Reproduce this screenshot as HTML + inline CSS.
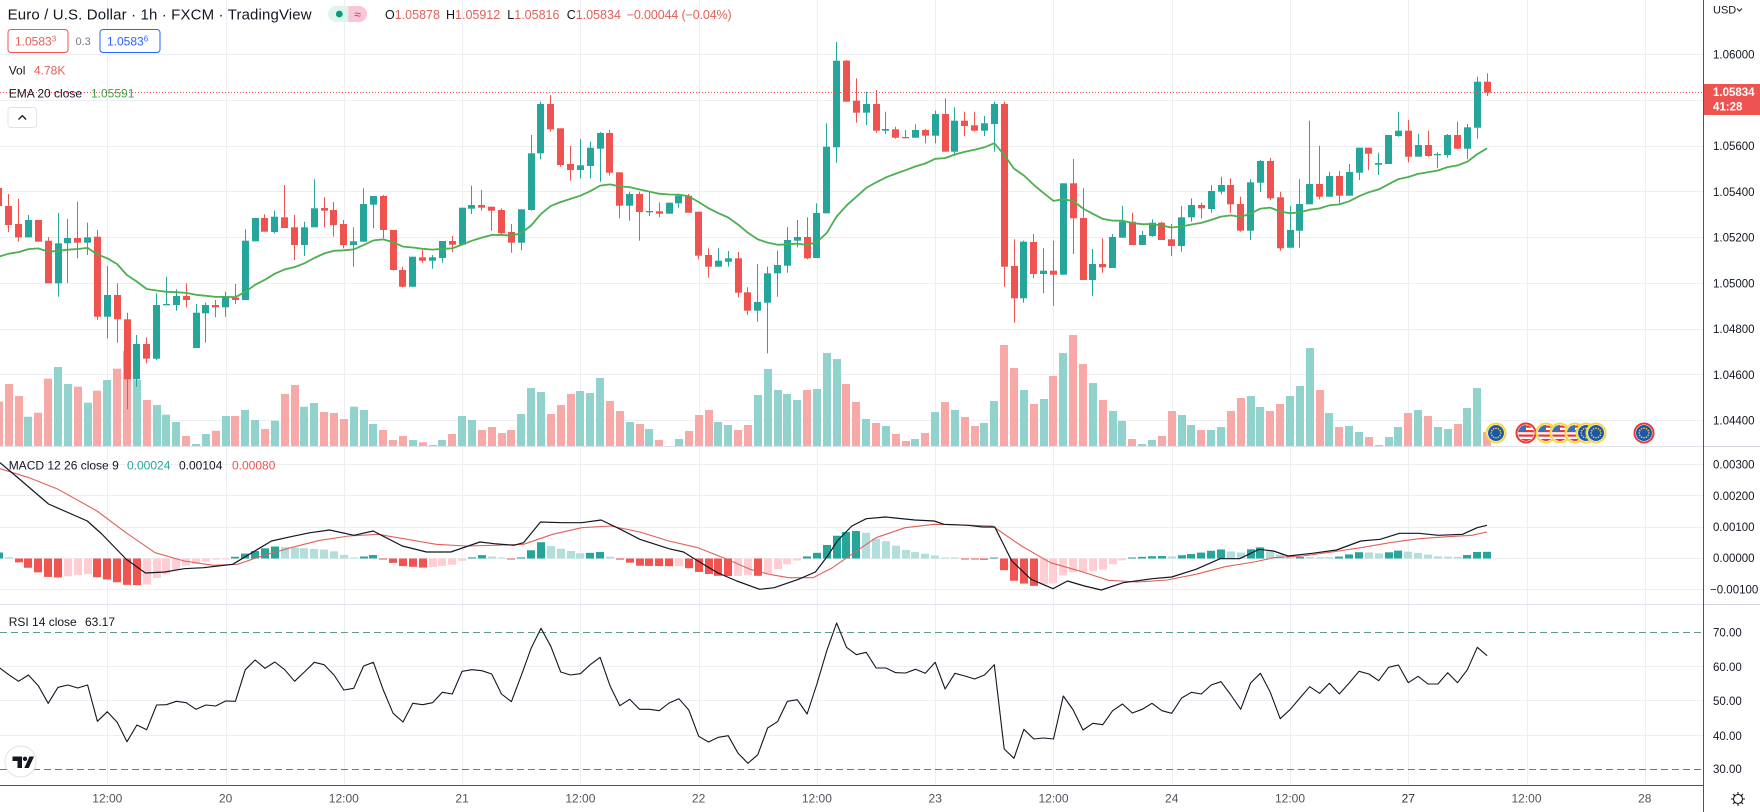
<!DOCTYPE html>
<html><head><meta charset="utf-8">
<style>
html,body{margin:0;padding:0;background:#fff;width:1760px;height:812px;overflow:hidden;}
svg{display:block;}
text{font-family:"Liberation Sans",Arial,sans-serif;}
</style></head><body>
<svg id="c" width="1760" height="812" xmlns="http://www.w3.org/2000/svg">
<defs>
<clipPath id="cpMain"><rect x="0" y="0" width="1703" height="446"/></clipPath>
<clipPath id="cpMacd"><rect x="0" y="447" width="1703" height="157"/></clipPath>
<clipPath id="cpRsi"><rect x="0" y="605" width="1703" height="180"/></clipPath>
<clipPath id="flagc"><circle cx="0" cy="0" r="8"/></clipPath>
<symbol id="us" viewBox="-10 -10 20 20" overflow="visible">
<g clip-path="url(#flagc)">
<rect x="-10" y="-10" width="20" height="20" fill="#ffffff"/>
<rect x="-10" y="-7.5" width="20" height="2.2" fill="#e53935"/>
<rect x="-10" y="-3" width="20" height="2.2" fill="#e53935"/>
<rect x="-10" y="1.5" width="20" height="2.2" fill="#e53935"/>
<rect x="-10" y="6" width="20" height="2.2" fill="#e53935"/>
<rect x="-10" y="-10" width="10" height="9" fill="#3f6fb5"/>
</g>
</symbol>
<symbol id="eu" viewBox="-10 -10 20 20" overflow="visible">
<circle cx="0" cy="0" r="8" fill="#1f57a8"/>
<g fill="#f2d54a">
<circle cx="0" cy="-4.8" r="0.8"/><circle cx="2.4" cy="-4.2" r="0.8"/><circle cx="4.2" cy="-2.4" r="0.8"/>
<circle cx="4.8" cy="0" r="0.8"/><circle cx="4.2" cy="2.4" r="0.8"/><circle cx="2.4" cy="4.2" r="0.8"/>
<circle cx="0" cy="4.8" r="0.8"/><circle cx="-2.4" cy="4.2" r="0.8"/><circle cx="-4.2" cy="2.4" r="0.8"/>
<circle cx="-4.8" cy="0" r="0.8"/><circle cx="-4.2" cy="-2.4" r="0.8"/><circle cx="-2.4" cy="-4.2" r="0.8"/>
</g>
</symbol>
</defs>
<rect x="0" y="0" width="1760" height="812" fill="#ffffff"/>
<g id="grid"></g>
<g id="vol" clip-path="url(#cpMain)"></g>
<g id="candles" clip-path="url(#cpMain)"></g>
<g id="ema" clip-path="url(#cpMain)"></g>
<g id="macd" clip-path="url(#cpMacd)"></g>
<g id="rsi" clip-path="url(#cpRsi)"></g>

<!-- current price line -->
<line x1="0" y1="92.5" x2="1703" y2="92.5" stroke="#ef5350" stroke-width="1" stroke-dasharray="1 2"/>

<!-- events -->
<g id="events">
<circle cx="1496" cy="433" r="9.5" fill="#fff" stroke="#f5d742" stroke-width="2"/><use href="#eu" x="1486" y="423" width="20" height="20"/>
<circle cx="1526" cy="433" r="9.5" fill="#fff" stroke="#e53935" stroke-width="2"/><use href="#us" x="1516" y="423" width="20" height="20"/>
<circle cx="1546" cy="433" r="9.5" fill="#fff" stroke="#f5d742" stroke-width="2"/><use href="#us" x="1536" y="423" width="20" height="20"/>
<circle cx="1560" cy="433" r="9.5" fill="#fff" stroke="#f5d742" stroke-width="2"/><use href="#us" x="1550" y="423" width="20" height="20"/>
<circle cx="1575" cy="433" r="9.5" fill="#fff" stroke="#f5d742" stroke-width="2"/><use href="#us" x="1565" y="423" width="20" height="20"/>
<circle cx="1586" cy="433" r="9.5" fill="#fff" stroke="#f5d742" stroke-width="2"/><use href="#eu" x="1576" y="423" width="20" height="20"/>
<circle cx="1596" cy="433" r="9.5" fill="#fff" stroke="#f5d742" stroke-width="2"/><use href="#eu" x="1586" y="423" width="20" height="20"/>
<circle cx="1644" cy="433" r="9.5" fill="#fff" stroke="#e53935" stroke-width="2"/><use href="#eu" x="1634" y="423" width="20" height="20"/>
</g>

<!-- pane separators & axis borders -->
<line x1="0" y1="446.5" x2="1760" y2="446.5" stroke="#e0e3eb" stroke-width="1"/>
<line x1="0" y1="604.5" x2="1760" y2="604.5" stroke="#e0e3eb" stroke-width="1"/>
<rect x="1704" y="0" width="56" height="812" fill="#ffffff"/>
<rect x="0" y="786" width="1704" height="26" fill="#ffffff"/>
<line x1="1703.5" y1="0" x2="1703.5" y2="812" stroke="#50535e" stroke-width="1"/>
<line x1="0" y1="785.5" x2="1703" y2="785.5" stroke="#50535e" stroke-width="1"/>
<line x1="1704" y1="446.5" x2="1760" y2="446.5" stroke="#d1d4dc" stroke-width="1"/>
<line x1="1704" y1="604.5" x2="1760" y2="604.5" stroke="#d1d4dc" stroke-width="1"/>

<!-- price axis -->
<g font-size="11.5" fill="#131722">
<text x="1713" y="13.5" font-size="11">USD</text>
<path d="M1737 8.5 l2.5 2.5 l2.5 -2.5" fill="none" stroke="#131722" stroke-width="1"/>
<text x="1713" y="58.6">1.06000</text>
<text x="1713" y="150.1">1.05600</text>
<text x="1713" y="195.9">1.05400</text>
<text x="1713" y="241.6">1.05200</text>
<text x="1713" y="287.4">1.05000</text>
<text x="1713" y="333.2">1.04800</text>
<text x="1713" y="379">1.04600</text>
<text x="1713" y="424.7">1.04400</text>
<text x="1713" y="468.5">0.00300</text>
<text x="1713" y="499.8">0.00200</text>
<text x="1713" y="531.2">0.00100</text>
<text x="1713" y="562.2">0.00000</text>
<text x="1710" y="593.5">−0.00100</text>
<text x="1713" y="636.5">70.00</text>
<text x="1713" y="670.9">60.00</text>
<text x="1713" y="704.9">50.00</text>
<text x="1713" y="739.9">40.00</text>
<text x="1713" y="773.2">30.00</text>
</g>
<rect x="1704" y="84" width="56" height="31" fill="#ef5350"/>
<text x="1713" y="96" font-size="11.5" font-weight="bold" fill="#ffffff">1.05834</text>
<text x="1713" y="110.5" font-size="11.5" font-weight="bold" fill="#ffffff">41:28</text>

<!-- gear -->
<g transform="translate(1738,799)" stroke="#131722" stroke-width="1.1" fill="none">
<circle cx="0" cy="0" r="4.5"/>
<path d="M0 -4.5V-7 M0 4.5V7 M-4.5 0H-7 M4.5 0H7 M3.2 -3.2L5 -5 M-3.2 3.2L-5 5 M3.2 3.2L5 5 M-3.2 -3.2L-5 -5"/>
</g>

<!-- time axis labels -->
<g font-size="12" fill="#50535e" text-anchor="middle">
<text x="107.3" y="802.3">12:00</text>
<text x="225.6" y="802.3">20</text>
<text x="343.8" y="802.3">12:00</text>
<text x="462.1" y="802.3">21</text>
<text x="580.4" y="802.3">12:00</text>
<text x="698.6" y="802.3">22</text>
<text x="816.9" y="802.3">12:00</text>
<text x="935.2" y="802.3">23</text>
<text x="1053.5" y="802.3">12:00</text>
<text x="1171.7" y="802.3">24</text>
<text x="1290" y="802.3">12:00</text>
<text x="1408.3" y="802.3" fill="#2a2e39">27</text>
<text x="1526.5" y="802.3">12:00</text>
<text x="1644.8" y="802.3">28</text>
</g>

<!-- legend -->
<text x="7.6" y="19.5" font-size="15" fill="#131722" textLength="304" lengthAdjust="spacing">Euro / U.S. Dollar · 1h · FXCM · TradingView</text>
<rect x="328" y="6" width="39" height="16" rx="8" fill="#dff3ef"/>
<path d="M348.3 6 H359 a8 8 0 0 1 0 16 H348.3 Z" fill="#f8c6d6"/>
<circle cx="339.3" cy="14" r="3.4" fill="#089981"/>
<text x="357.5" y="18.5" font-size="12" fill="#e91e63" text-anchor="middle">≈</text>
<g font-size="12.5">
<text x="385" y="18.8"><tspan fill="#131722">O</tspan><tspan fill="#e0605a">1.05878</tspan></text>
<text x="446" y="18.8"><tspan fill="#131722">H</tspan><tspan fill="#e0605a">1.05912</tspan></text>
<text x="507.3" y="18.8"><tspan fill="#131722">L</tspan><tspan fill="#e0605a">1.05816</tspan></text>
<text x="566.7" y="18.8"><tspan fill="#131722">C</tspan><tspan fill="#e0605a">1.05834</tspan></text>
<text x="626.7" y="18.8" fill="#e0605a" textLength="105" lengthAdjust="spacing">−0.00044 (−0.04%)</text>
</g>
<rect x="8" y="29.5" width="60" height="23" rx="3" fill="#ffffff" stroke="#ef5350" stroke-width="1"/>
<text x="15" y="45.5" font-size="12" fill="#e0605a">1.0583<tspan font-size="8" dy="-4">3</tspan></text>
<text x="75.5" y="45" font-size="11" fill="#787b86">0.3</text>
<rect x="100" y="29.5" width="60" height="23" rx="3" fill="#ffffff" stroke="#2962ff" stroke-width="1"/>
<text x="107" y="45.5" font-size="12" fill="#2962ff">1.0583<tspan font-size="8" dy="-4">6</tspan></text>
<text x="8.7" y="74.3" font-size="12" fill="#131722">Vol</text>
<text x="34" y="74.3" font-size="12" fill="#e0605a">4.78K</text>
<text x="8.7" y="97.3" font-size="12" fill="#131722">EMA 20 close</text>
<text x="91" y="97.3" font-size="12" fill="#43a047">1.05591</text>
<rect x="8" y="107.5" width="28.5" height="20" rx="3" fill="#ffffff" stroke="#e0e3eb" stroke-width="1"/>
<path d="M18.5 119.5 l3.8 -3.8 l3.8 3.8" fill="none" stroke="#131722" stroke-width="1.3"/>

<text x="8.7" y="469.5" font-size="12" fill="#131722">MACD 12 26 close 9</text>
<text x="127" y="469.5" font-size="12" fill="#26a69a">0.00024</text>
<text x="179" y="469.5" font-size="12" fill="#131722">0.00104</text>
<text x="232" y="469.5" font-size="12" fill="#ef5350">0.00080</text>
<text x="8.7" y="625.8" font-size="12" fill="#131722">RSI 14 close</text>
<text x="85" y="625.8" font-size="12" fill="#131722">63.17</text>

<!-- TV logo -->
<circle cx="20.5" cy="761.5" r="15.5" fill="#ffffff" stroke="#e0e3eb" stroke-width="1"/>
<path d="M12.5 756.5 h9.5 v11.5 h-4.5 v-7 h-5 z" fill="#131722"/>
<circle cx="25" cy="758.8" r="2.2" fill="#131722"/>
<path d="M29.5 756.5 h4.5 l-5.2 11.5 h-4.5 z" fill="#131722"/>
</svg>
<script>
(function(){
var NS="http://www.w3.org/2000/svg";
function el(tag,attrs,parent){var e=document.createElementNS(NS,tag);for(var k in attrs)e.setAttribute(k,attrs[k]);parent.appendChild(e);return e;}
var gGrid=document.getElementById('grid'),gV=document.getElementById('vol'),gC=document.getElementById('candles'),gE=document.getElementById('ema'),gM=document.getElementById('macd'),gR=document.getElementById('rsi');
var GRID="#eceef3";
// vertical gridlines
for(var k=0;k<14;k++){var x=Math.round(107.3+118.27*k)+0.5;el('line',{x1:x,y1:0,x2:x,y2:785,stroke:GRID,'stroke-width':1},gGrid);}
[54.5,100.5,146.5,191.5,237.5,283.5,329.5,374.5,420.5,464.5,495.5,527.5,558.5,589.5,666.5,700.5,735.5].forEach(function(y){el('line',{x1:0,y1:y,x2:1703,y2:y,stroke:GRID,'stroke-width':1},gGrid);});
el('line',{x1:0,y1:632.5,x2:1703,y2:632.5,stroke:'#5f9e86','stroke-width':1,'stroke-dasharray':'7 4'},gGrid);
el('line',{x1:0,y1:769.5,x2:1703,y2:769.5,stroke:'#c9504c','stroke-width':1,'stroke-dasharray':'7 4'},gGrid);

var UP="#26a69a",DN="#ef5350",VUP="#92d2cc",VDN="#f7a9a7";
function X(i){return -1.12+9.856*i;}
var C=[
[0,188,206,184,212],[0,206,225,194,232],[0,224,237.3,199,241.7],[1,220,237.3,215,237.3],[0,220,241.7,220,241.7],
[0,240.7,283.3,237,283.3],[1,243.3,283.3,213,296.7],[1,238,243.3,219,283],[0,238,242.7,201.7,258.3],[1,237.3,242.7,222.7,255],
[0,236.7,316.7,230,320],[1,295,316.7,266,338.3],[0,295,319.3,283.3,342.7],[0,319.3,379.3,312.7,409.3],[1,344,379.3,335,386.7],
[0,344,358.7,337.3,363.3],[1,305,358.7,293.3,360],[1,304,305.3,276.7,305.3],[1,296,305,289.3,310.7],[0,296,300,283.3,307.3],
[1,312.7,348,304,348],[1,305,313.3,302.7,342.7],[0,305,307.3,300,317.3],[1,297.3,307.3,291.7,316.7],[0,297.7,300,284,304],
[1,240.7,300,229.3,300],[1,218,241.3,218,241.3],[0,218,231.7,214.3,231.7],[1,216.7,232,210.7,233.3],[0,217.3,228,185,228],
[0,227.3,245,215,260],[1,227.3,245,221.7,256],[1,208.3,227.3,179.3,227.3],[0,208,210.7,197.3,227.3],[0,210,225,202,236.7],
[0,224,245,220,248.3],[1,241.3,245,227.3,266.7],[1,204,241.7,188.3,241.7],[1,196,204.7,196,228.3],[0,196,230,195,238.3],
[0,230,270,230,270.7],[0,270,286.7,266.7,287.3],[1,256.7,286.7,256.7,287],[0,257.3,260.7,250,262.7],[1,257.3,260.7,255,268.7],
[1,241,258,241,262.7],[0,241,244.7,236,252],[1,207.7,244.7,207.7,244.7],[1,205,208.7,185.7,214],[0,205,207.7,190,210.7],
[0,206.7,210.7,206.7,230.7],[0,210,233.3,208.3,235],[0,232,242.7,224,252.7],[1,209.3,242.7,209.3,250],[1,153.3,210,135,210.7],
[1,104,153.3,101.7,159.3],[0,104,129.3,95,131.7],[0,128.3,165,128.3,166.7],[0,164,170,146,180.7],[1,165.3,170,139,178.3],
[1,147.7,166,141.7,178.3],[1,133,148.7,132,181.7],[0,133,172.7,130,175.7],[0,172.3,205.7,172.3,218.3],[1,194,205.7,191.7,220.7],
[0,194,212,191.7,240.7],[1,211,211.7,191.7,216],[0,211.3,213.7,202.3,217.3],[1,202.7,213.7,202.7,213.7],[1,195.7,203.3,195.7,207.7],
[0,195.7,212.7,194,212.7],[0,211.7,255.7,211.7,259.3],[0,255,266.7,248.3,277.7],[1,260.7,266.7,248.3,266.7],[1,258.3,261.7,251,266.7],
[0,258.3,292.7,252,297.3],[0,292.3,310.7,287.3,315],[1,302,310.7,264,321.7],[1,273.3,302.7,266.7,353.3],[1,265,273.3,250.7,296.7],
[1,240,265.7,227.3,272.7],[1,237,240.7,220,247.3],[0,237,258.3,217.3,259.3],[1,213,258,203.3,258],[1,146.7,213.3,123.3,213.3],
[1,60.7,147.3,42,162.7],[0,60.7,101.7,60,101.7],[0,100.7,112.7,78.3,122.7],[1,104,112.7,91.7,125],[0,104,130.7,90,132.7],
[1,129,130.7,111.7,134],[0,129.3,137.7,126.7,138.7],[0,137,138.3,130,138.3],[1,130,137.7,124.3,137.7],[0,130,135.7,129,143.3],
[1,114,135.7,110.7,143.3],[0,114,151.7,98.3,151.7],[1,120.7,151.7,107.3,156],[0,120.7,126,111.7,136],[0,125.3,130.7,111.7,131.7],
[1,123.3,130.7,116,136],[1,104,124,101.7,151.7],[0,104,266.7,101.7,286.7],[0,266,298.3,239.3,322.7],[1,241.7,298.3,240.7,302.7],
[0,242,274,234,278.3],[1,270.7,274,248.3,293.3],[0,270.7,274.7,240.7,306],[1,183.3,274.7,183.3,274.7],[0,183.3,218.3,159,254],
[0,218,280,188.3,280],[1,264,280,249,296],[0,264,267.3,238.3,272.7],[1,237,268,234,268],[1,221.7,237.7,206,237.7],
[0,221.7,245,212.7,245],[1,235,245,231,245],[1,222.7,236,219.3,236.7],[0,222.7,240,221.7,240],[0,239.3,246,224,256],
[1,217.3,246,206,251.7],[1,205,217.3,198.3,221.7],[0,205,208.3,202.7,218.3],[1,191,209,185,212.7],[1,185,191.7,176.7,194.3],
[0,185,204.3,178.3,212.7],[0,204,230.7,196.7,231.7],[1,182.3,230.7,179.3,240],[1,161,182.7,160,192],[0,161,198.3,158,200],
[0,197.3,248.3,191.7,250.7],[1,230,247.7,206,247.7],[1,204,230.7,179.3,247.7],[1,184,204.3,120.7,204.3],[0,184,196.7,145.7,199.3],
[1,176,196.7,171.7,196.7],[0,176,195.7,171,203.3],[1,172,195.7,164,195.7],[1,147.7,172.7,147.7,180],[0,147.7,153.7,147.7,170],
[1,163,164.7,152.7,175],[1,135,164,135,164],[1,130.7,136,111.7,136.7],[0,130.7,156.7,120,162.3],[1,145,156.7,134,156.7],
[0,145,156,130.7,156.7],[1,154,155.3,152.3,168.3],[1,135,155,134,157.7],[0,135,148.7,121.7,149.3],[1,127.3,148.7,124,159.3],
[1,81.7,127.7,76.7,138.7],[0,81.7,92.7,73.3,96]
];
var V=[401.7,384,396,416.7,412.7,378.7,367,384,386.7,402.7,390.7,380,368.7,351,380,400,405,414.7,422,436,
444,434,430.7,416,416,410,420,429,420.7,394,385,406.7,403,412,413,419,406.7,410,424,430,
440,436,440,442.3,445,440,434,416,420,430,427,433,430,414,388,392,414,405,394,391,
393,378,401,411,422,424,429,440,446,439,431,415,410,422,425,430,425,395,369,390,
394,400,390,389,353,359,384,402,419,423,426,434,441,439,433,412,402,410,417,426,
423,401,345,368,390,404,399,376,353,335,364,383,400,411,421,439,444,440,436,411,
415,425,430,430,427,411,398,396,407,411,404,396,386,348,390,413,427,426,432,437,
445,437,427,413,410,416,427,429,424,408,388,432];
var VB=447;
for(var i=0;i<C.length;i++){
  var c=C[i],xc=X(i);
  var vt=V[i]; if(vt>VB-1)vt=VB-1;
  el('rect',{x:Math.round(xc-4),y:vt,width:8,height:VB-vt,fill:c[0]?VUP:VDN},gV);
  var col=c[0]?UP:DN,bx=Math.round(xc-3.5);
  var wt=Math.min(c[3],c[1]),wb=Math.max(c[4],c[2]);
  el('rect',{x:bx+3,y:wt,width:1,height:Math.max(1,wb-wt),fill:col},gC);
  var h=c[2]-c[1]; if(h<1.3)h=1.3;
  el('rect',{x:bx,y:c[1],width:7,height:h,fill:col},gC);
}
// EMA
var a=2/21,e=256.7,pts=[];
for(var i=0;i<C.length;i++){var c=C[i],cl=c[0]?c[1]:c[2];if(i>0)e=e+a*(cl-e);pts.push(X(i).toFixed(1)+','+e.toFixed(1));}
el('polyline',{points:pts.join(' '),fill:'none',stroke:'#4caf50','stroke-width':1.8,'stroke-linejoin':'round'},gE);

// MACD
var MB=[[0,462.7],[19.4,479],[48.5,504],[87.3,521],[101.8,534],[126,559],[145.4,573],[164.8,572],[184.2,568.7],[203.6,567.7],[232.7,564.3],[252,552.7],[271.5,541],[290.8,536.7],[310.2,532.7],[329.6,530],[353.9,535.3],[373.2,531],[402.3,546],[426.6,552],[450.8,552],[479.9,542],[494.4,543.7],[513.8,545.3],[523.5,542.7],[540.5,522],[562.3,522.7],[581.7,522.7],[601.1,520],[620.5,529.3],[639.8,539.3],[668.9,548.7],[683.5,552],[698,561],[717.4,572.7],[736.8,581],[759.7,589.3],[774.2,587.7],[798.5,579.3],[815.4,572],[827.6,556],[837.3,541],[851.8,526],[866.3,518.7],[885.7,517],[914.8,520],[934.2,521],[943.9,524.3],[968.1,525.3],[982.7,527],[994.8,527],[1011.8,561],[1031.1,579.3],[1053,588.7],[1067.5,581],[1084.5,586],[1101.4,590],[1123.2,582.7],[1152.3,578.7],[1171.7,577],[1196,569.3],[1220.2,558.7],[1239.6,558.7],[1259,549.3],[1273.5,551],[1288,556],[1312.3,553.3],[1336.5,550],[1360.8,541],[1380.2,539.3],[1399.5,533.3],[1418.9,533.3],[1438.3,535.3],[1462.6,534.3],[1477.1,527.7],[1487,525.3]];
var MR=[[0,468.7],[29.1,477.7],[58.2,489.3],[97,511],[126,532.7],[155.1,552.7],[184.2,561],[213.3,565.3],[237.5,564.3],[261.8,556],[290.8,547.7],[319.9,540.3],[349,536],[378.1,534.3],[407.2,539.3],[436.3,544.3],[465.3,546],[494.4,545.3],[523.5,544.3],[552.6,534.3],[581.7,527.7],[610.8,526],[639.8,532],[668.9,541],[698,547.7],[727.1,559.3],[750,569.3],[769.4,574.3],[788.8,577.7],[813,577.7],[832.4,567.7],[851.8,554.3],[876,537.7],[905.1,527.7],[934.2,524.3],[963.3,525],[992.4,526],[1021.5,546],[1050.5,562.7],[1079.6,571],[1108.7,580.3],[1137.8,582],[1166.9,580],[1196,574.3],[1225,566.7],[1254.1,562],[1273.5,557.7],[1302.6,556],[1331.7,552],[1360.8,547.7],[1389.8,542.7],[1418.9,538.7],[1448,536.7],[1472.2,535.3],[1487,532]];
function interp(P,x){if(x<=P[0][0])return P[0][1];for(var k=1;k<P.length;k++){if(x<=P[k][0]){var p=P[k-1],q=P[k];return p[1]+(q[1]-p[1])*(x-p[0])/(q[0]-p[0]);}}return P[P.length-1][1];}
var Z=558.5,prev=null;
for(var i=0;i<C.length;i++){
  var xc=X(i),hv=interp(MR,xc)-interp(MB,xc);
  var col;
  if(prev===null)prev=hv;
  if(hv>=0)col=(hv>=prev)?'#26a69a':'#b2dfdb';else col=(hv<prev)?'#f05350':'#ffcdd2';
  prev=hv;
  var top=hv>=0?Z-hv:Z,ht=Math.abs(hv);if(ht<1)ht=1;if(hv>=0&&Math.abs(hv)<1)top=Z-1;
  el('rect',{x:Math.round(xc-4),y:top,width:8,height:ht,fill:col},gM);
}
function pl(P){return P.map(function(p){return p[0]+','+p[1];}).join(' ');}
el('polyline',{points:pl(MR),fill:'none',stroke:'#e0605a','stroke-width':1.1,'stroke-linejoin':'round'},gM);
el('polyline',{points:pl(MB),fill:'none',stroke:'#131722','stroke-width':1.2,'stroke-linejoin':'round'},gM);

// RSI
var R=[190,212,232,213,245,298,250,243,252,243,352,323,355,413,363,377,303,302,292,296,316,303,306,291,292,197,168,193,174,197,232,204,175,182,213,258,253,186,175,258,328,354,298,302,296,265,270,202,197,200,210,270,293,215,133,73,127,204,213,209,182,160,245,305,286,316,316,320,297,284,318,397,414,400,395,448,478,452,
372,353,292,287,330,240,140,57,130,152,145,192,192,206,207,196,208,175,255,208,216,225,213,182,435,463,376,405,402,405,276,318,378,358,362,320,300,327,316,298,320,328,282,265,270,243,233,273,316,237,208,265,344,317,282,248,268,238,270,237,202,210,230,190,183,236,217,240,240,206,236,197,130,155];
var rp=[];
for(var i=0;i<R.length;i++){rp.push(X(i).toFixed(1)+','+(604+R[i]/3).toFixed(1));}
el('polyline',{points:rp.join(' '),fill:'none',stroke:'#131722','stroke-width':1.1,'stroke-linejoin':'round'},gR);
})();
</script>
</body></html>
